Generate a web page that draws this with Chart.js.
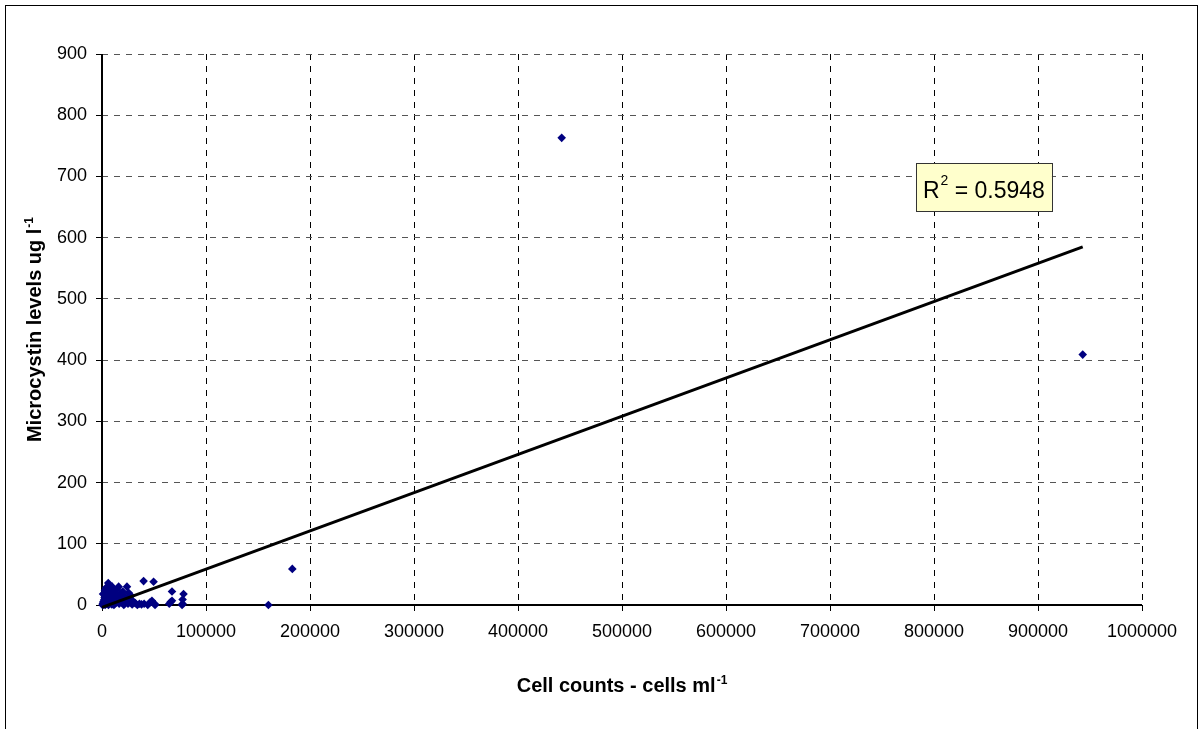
<!DOCTYPE html>
<html>
<head>
<meta charset="utf-8">
<script src="https://cdn.jsdelivr.net/npm/chart.js@4.4.1/dist/chart.umd.min.js"></script>
<style>
  html, body { margin: 0; padding: 0; background: #fff; }
  canvas { display: block; }
</style>
</head>
<body>
<canvas id="myChart" width="1200" height="729"></canvas>
<script>
// cell counts (cells/ml) vs microcystin (ug/l)
var cellCounts = [
  500, 800, 1200, 1500, 2000, 2200, 2500, 3000, 3200, 3500,
  4000, 4200, 4500, 5000, 5200, 5500, 6000, 6200, 6500, 7000,
  7500, 8000, 8500, 9000, 9500, 10000, 10500, 11000, 11500, 12000,
  12500, 13000, 14000, 14500, 15000, 16000, 16500, 17000, 18000, 19000,
  20000, 21000, 22000, 23000, 24000, 25000, 25600, 26000, 27000, 28000,
  29000, 30000, 32000, 34000, 36000, 38000, 40000, 40500, 44000, 46000,
  48000, 49600, 50600, 51000, 64700, 66000, 67300, 67300, 77500, 77500,
  78400, 77000, 160000, 183000, 442000, 943000,
  1000, 3800, 7800, 11200, 13500, 19500, 2800, 9800
];
var microcystin = [
  0, 2, 5, 1, 8, 3, 12, 0, 15, 6,
  20, 2, 10, 25, 4, 14, 36, 0, 18, 8,
  28, 3, 22, 12, 1, 16, 25, 6, 0, 20,
  10, 3, 14, 26, 8, 30, 2, 18, 11, 4,
  22, 0, 14, 7, 30, 2, 20, 10, 4, 15,
  1, 6, 3, 0, 2, 1, 39, 2, 0, 4,
  7, 38, 2, 0, 2, 5, 22, 7, 9, 2,
  18, 0, 0, 59, 763, 409,
  18, 28, 14, 22, 5, 9, 24, 30
];

// linear trendline end points
var trendX = [0, 943000];
var trendY = [-4, 585];

var xMin = 0, xMax = 1000000, xStep = 100000;
var yMin = 0, yMax = 900, yStep = 100;

var xTitle = 'Cell counts - cells ml';
var yTitle = 'Microcystin levels ug l';
var unitSup = '-1';
var rLabel = 'R';
var rSup = '2';
var rValue = ' = 0.5948';
// where the R² box sits (data units)
var rBoxAt = [848000, 682];

var FONT = 'Arial, "Liberation Sans", sans-serif';

function drawSup(ctx, main, sup, size, supSize, x, y, bold) {
    // main text then a raised superscript, left aligned at x, baseline y
    var w = (bold ? 'bold ' : '');
    ctx.font = w + size + 'px ' + FONT;
    var mw = ctx.measureText(main).width;
    ctx.fillText(main, x, y);
    ctx.font = w + supSize + 'px ' + FONT;
    ctx.fillText(sup, x + mw + 1, y - size * 0.4);
    return mw + 1 + ctx.measureText(sup).width;
}

function measureSup(ctx, main, sup, size, supSize, bold) {
    var w = (bold ? 'bold ' : '');
    ctx.font = w + size + 'px ' + FONT;
    var mw = ctx.measureText(main).width;
    ctx.font = w + supSize + 'px ' + FONT;
    return mw + 1 + ctx.measureText(sup).width;
}

var extras = {
    id: 'extras',
    beforeDraw: function(chart) {
        var ctx = chart.ctx;
        ctx.save();
        ctx.fillStyle = '#fff';
        ctx.fillRect(0, 0, chart.width, chart.height);
        ctx.restore();
    },
    beforeDatasetsDraw: function(chart) {
        // solid axis lines, under the markers
        var ctx = chart.ctx, a = chart.chartArea;
        var l = Math.round(a.left), b = Math.round(a.bottom);
        ctx.save();
        ctx.strokeStyle = '#000';
        ctx.lineWidth = 2;
        ctx.beginPath();
        ctx.moveTo(l, Math.round(a.top));
        ctx.lineTo(l, b);
        ctx.lineTo(Math.round(a.right), b);
        ctx.stroke();
        ctx.restore();
    },
    afterDraw: function(chart) {
        var ctx = chart.ctx;
        var area = chart.chartArea;
        var xs = chart.scales.x, ys = chart.scales.y;
        ctx.save();
        ctx.fillStyle = '#000';
        ctx.textBaseline = 'alphabetic';
        ctx.textAlign = 'left';

        // x title
        var tw = measureSup(ctx, xTitle, unitSup, 20, 12, true);
        var cx = (area.left + area.right) / 2;
        drawSup(ctx, xTitle, unitSup, 20, 12, cx - tw / 2, 692, true);

        // y title, rotated
        ctx.save();
        ctx.translate(41, (area.top + area.bottom) / 2);
        ctx.rotate(-Math.PI / 2);
        var yw = measureSup(ctx, yTitle, unitSup, 20, 12, true);
        drawSup(ctx, yTitle, unitSup, 20, 12, -yw / 2, 0, true);
        ctx.restore();

        // R² box
        var bx = xs.getPixelForValue(rBoxAt[0]);
        var by = ys.getPixelForValue(rBoxAt[1]);
        var bw = 136, bh = 48;
        ctx.fillStyle = '#ffffcc';
        ctx.fillRect(bx - bw / 2, by - bh / 2, bw, bh);
        ctx.strokeStyle = '#333';
        ctx.lineWidth = 1;
        ctx.strokeRect(Math.round(bx - bw / 2) + 0.5, Math.round(by - bh / 2) + 0.5, bw, bh);
        ctx.fillStyle = '#000';
        ctx.font = '23px ' + FONT;
        var rw = ctx.measureText(rLabel).width;
        ctx.fillText(rLabel, bx - bw / 2 + 7, by + 11);
        ctx.font = '14px ' + FONT;
        var sw = ctx.measureText(rSup).width;
        ctx.fillText(rSup, bx - bw / 2 + 7 + rw + 1, by - 2);
        ctx.font = '23px ' + FONT;
        ctx.fillText(rValue, bx - bw / 2 + 7 + rw + 1 + sw, by + 11);

        // outer frame
        ctx.strokeStyle = '#000';
        ctx.lineWidth = 1;
        ctx.strokeRect(5.5, 5.5, 1192, 740);
        ctx.restore();
    }
};

var points = cellCounts.map(function(c, i) { return {x: c, y: microcystin[i]}; });
var trend = trendX.map(function(c, i) { return {x: c, y: trendY[i]}; });

var ctx = document.getElementById('myChart').getContext('2d');
var myChart = new Chart(ctx, {
    type: 'scatter',
    data: {
        datasets: [{
            label: 'Trend',
            type: 'line',
            data: trend,
            showLine: true,
            borderColor: '#000',
            borderWidth: 3,
            pointRadius: 0,
            fill: false,
            clip: false
        }, {
            label: 'Microcystin',
            data: points,
            pointStyle: 'rectRot',
            pointRadius: 4.3,
            backgroundColor: '#000080',
            borderColor: '#000080',
            borderWidth: 0,
            clip: false
        }]
    },
    options: {
        responsive: false,
        animation: false,
        layout: { padding: { top: 54, right: 58, left: 0, bottom: 0 } },
        plugins: { legend: { display: false }, tooltip: { enabled: false } },
        scales: {
            x: {
                type: 'linear',
                min: xMin, max: xMax,
                afterFit: function(s) { s.height = 124; },
                ticks: {
                    stepSize: xStep,
                    color: '#000',
                    padding: 10,
                    maxRotation: 0,
                    font: { family: FONT, size: 18 },
                    callback: function(v) { return String(v); }
                },
                grid: { color: '#000', tickLength: 6, tickColor: '#000', lineWidth: 1 },
                border: { display: false, dash: [6, 6] }
            },
            y: {
                type: 'linear',
                min: yMin, max: yMax,
                afterFit: function(s) { s.width = 102; },
                ticks: {
                    stepSize: yStep,
                    color: '#000',
                    padding: 9,
                    font: { family: FONT, size: 18 },
                    callback: function(v) { return String(v); }
                },
                grid: { color: '#555', tickLength: 6, tickColor: '#000', lineWidth: 1 },
                border: { display: false, dash: [6, 6] }
            }
        }
    },
    plugins: [extras]
});
</script>
</body>
</html>
